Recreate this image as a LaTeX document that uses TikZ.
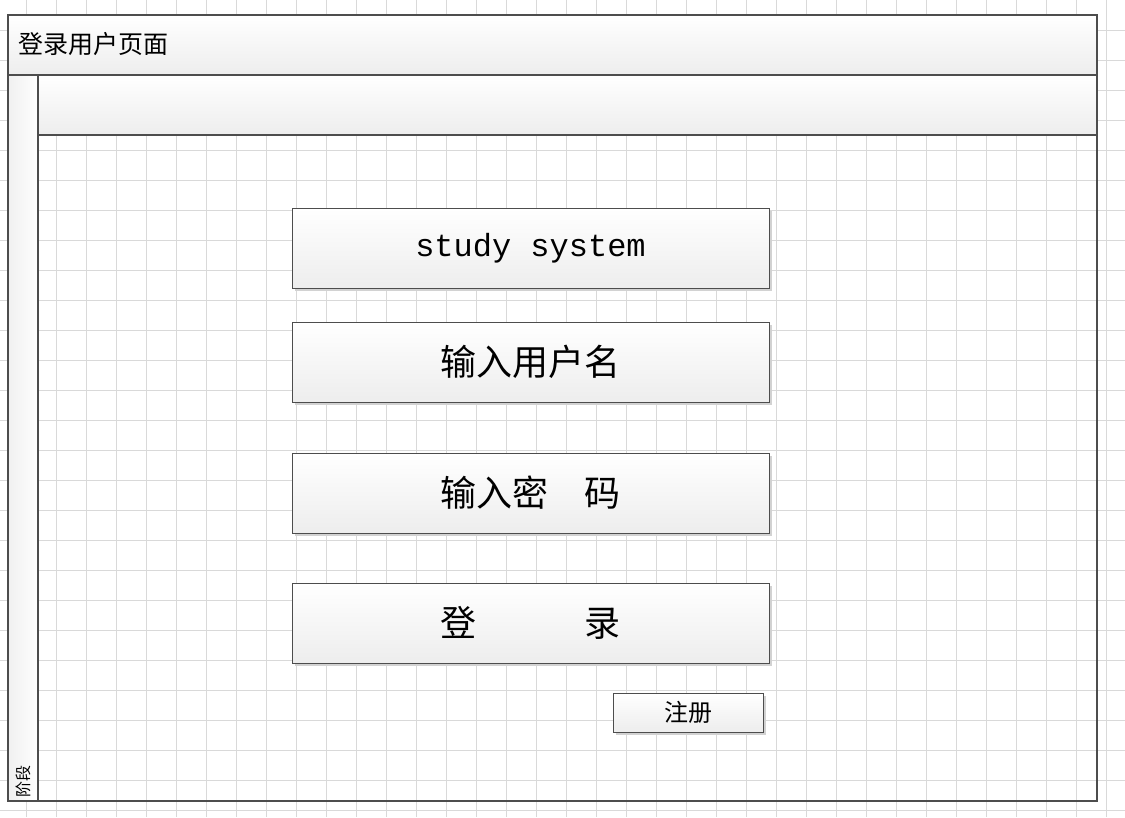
\documentclass[tikz,border=0pt]{standalone}
\usepackage{fontspec}
\setmonofont{Liberation Mono}
\newfontfamily\cjk{Noto Sans CJK SC}
\usetikzlibrary{shadows}
\definecolor{linha}{HTML}{4D4D4D}
\definecolor{grelha}{HTML}{D9D9D9}
\tikzset{
  caixa/.style={draw=linha, line width=1pt, top color=white, bottom color=gray!14, inner sep=0pt,
    drop shadow={shadow xshift=3pt, shadow yshift=-3pt, fill=gray!35, opacity=1}},
  faixa/.style={draw=linha, line width=2pt, top color=white, bottom color=gray!14},
  letra/.style={font=\cjk\fontsize{#1}{#1}\selectfont}
}

\begin{document}
\begin{tikzpicture}[x=1pt,y=-1pt]
    \useasboundingbox (0,0) rectangle (1125,817);
    % desenhar a grelha de fundo
    \foreach \i in {0,...,36}{
        \draw[grelha, line width=1pt] ({26.5+30*\i},0) -- ++(0,817);
    }
    \foreach \j in {1,...,27}{
        \draw[grelha, line width=1pt] (0,30*\j) -- ++(1125,0);
    }
    % desenhar as faixas do quadro
    \draw[faixa] (8,15) rectangle (1097,75);
    \draw[faixa] (38,75) rectangle (1097,135);
    \draw[draw=linha, line width=2pt, left color=gray!12, right color=white] (8,75) rectangle (38,801);
    \draw[draw=linha, line width=2pt] (8,15) rectangle (1097,801);
    % textos do quadro
    \node[letra=25, anchor=west, inner sep=0pt] (titulo) at (18,44) {登录用户页面};
    \node[letra=16, rotate=90, anchor=west, inner sep=0pt] (fase) at (23,798) {阶段};
    % desenhar as caixas do formulario
    \node[caixa, minimum width=477, minimum height=80, font=\ttfamily\fontsize{32}{36}\selectfont] (sistema) at (530.5,248) {study system};
    \node[caixa, minimum width=477, minimum height=80, letra=36] (utilizador) at (530.5,362) {输入用户名};
    \node[caixa, minimum width=477, minimum height=80, letra=36] (senha) at (530.5,493) {输入密　码};
    \node[caixa, minimum width=477, minimum height=80, letra=36] (entrar) at (530.5,623) {登　　　录};
    \node[caixa, minimum width=150, minimum height=39, letra=24] (registo) at (688,712.5) {注册};
\end{tikzpicture}
\end{document}
